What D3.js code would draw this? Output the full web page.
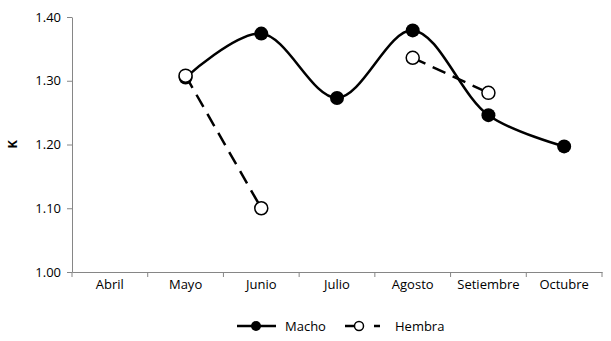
<!DOCTYPE html>
<html>
<head>
<meta charset="utf-8">
<script src="https://cdn.jsdelivr.net/npm/d3@7"></script>
<style>
  body { margin: 0; background: #fff; }
  svg text { font-family: "Open Sans", sans-serif; fill: #000; }
</style>
</head>
<body>
<div id="chart"></div>
<script>
const months = ["Abril", "Mayo", "Junio", "Julio", "Agosto", "Setiembre", "Octubre"];
const macho = [null, 1.305, 1.374, 1.273, 1.379, 1.246, 1.197];
const hembra = [null, 1.308, 1.10, null, 1.336, 1.281, null];
const yTicks = [1.00, 1.10, 1.20, 1.30, 1.40];

const width = 611, height = 341;
const margin = { top: 17, right: 9, bottom: 69, left: 72 };

const svg = d3.select('#chart').append('svg')
  .attr('width', width)
  .attr('height', height);

const x = d3.scaleBand().domain(months).range([margin.left, width - margin.right]);
const y = d3.scaleLinear().domain([1.0, 1.4]).range([height - margin.bottom, margin.top]);
const cx = m => x(m) + x.bandwidth() / 2;

// axes
const xAxis = svg.append('g')
  .attr('transform', `translate(0,${height - margin.bottom})`)
  .call(d3.axisBottom(x).tickSizeOuter(0).tickSize(0));
xAxis.selectAll('text').attr('dy', 14).style('font-size', '13px');

// x tick marks at band edges
svg.append('g').selectAll('line')
  .data(months.concat(['end']))
  .enter().append('line')
  .attr('x1', (d, i) => i < months.length ? x(d) : x.range()[1])
  .attr('x2', (d, i) => i < months.length ? x(d) : x.range()[1])
  .attr('y1', height - margin.bottom)
  .attr('y2', height - margin.bottom + 5)
  .attr('stroke', '#868686');

const yAxis = svg.append('g')
  .attr('transform', `translate(${margin.left},0)`)
  .call(d3.axisLeft(y).tickValues(yTicks).tickFormat(d3.format('.2f')).tickSize(5).tickSizeOuter(0).tickPadding(6));
yAxis.selectAll('text').style('font-size', '13px');

svg.selectAll('.domain, .tick line').attr('stroke', '#868686');

svg.append('text')
  .attr('transform', `translate(17,${(y(1.0) + y(1.4)) / 2}) rotate(-90)`)
  .attr('text-anchor', 'middle')
  .style('font-size', '13px')
  .style('font-weight', 'bold')
  .text('K');

// series
const machoPts = months.map((m, i) => ({ m, v: macho[i] })).filter(d => d.v !== null);
const line = d3.line()
  .x(d => cx(d.m))
  .y(d => y(d.v))
  .curve(d3.curveCatmullRom.alpha(0.5));

svg.append('path')
  .datum(machoPts)
  .attr('fill', 'none')
  .attr('stroke', '#000')
  .attr('stroke-width', 2.5)
  .attr('d', line);

const hembraLine = d3.line()
  .defined(d => d.v !== null)
  .x(d => cx(d.m))
  .y(d => y(d.v));

svg.append('path')
  .datum(months.map((m, i) => ({ m, v: hembra[i] })))
  .attr('fill', 'none')
  .attr('stroke', '#000')
  .attr('stroke-width', 2.5)
  .attr('stroke-dasharray', '14,8')
  .attr('d', hembraLine);

svg.selectAll('.macho-dot')
  .data(machoPts)
  .enter().append('circle')
  .attr('cx', d => cx(d.m))
  .attr('cy', d => y(d.v))
  .attr('r', 7)
  .attr('fill', '#000');

svg.selectAll('.hembra-dot')
  .data(months.map((m, i) => ({ m, v: hembra[i] })).filter(d => d.v !== null))
  .enter().append('circle')
  .attr('cx', d => cx(d.m))
  .attr('cy', d => y(d.v))
  .attr('r', 6.5)
  .attr('fill', '#fff')
  .attr('stroke', '#000')
  .attr('stroke-width', 1.5);

// legend
const ly = 326;
const legend = svg.append('g');
legend.append('line').attr('x1', 237).attr('x2', 276).attr('y1', ly).attr('y2', ly)
  .attr('stroke', '#000').attr('stroke-width', 2.5);
legend.append('circle').attr('cx', 256).attr('cy', ly).attr('r', 5).attr('fill', '#000');
legend.append('text').attr('x', 285).attr('y', ly + 5).style('font-size', '13px').text('Macho');

legend.append('line').attr('x1', 345).attr('x2', 386).attr('y1', ly).attr('y2', ly)
  .attr('stroke', '#000').attr('stroke-width', 2.5).attr('stroke-dasharray', '14,15,6,20');
legend.append('circle').attr('cx', 359).attr('cy', ly).attr('r', 4.5)
  .attr('fill', '#fff').attr('stroke', '#000').attr('stroke-width', 1.5);
legend.append('text').attr('x', 395).attr('y', ly + 5).style('font-size', '13px').text('Hembra');
</script>
</body>
</html>
